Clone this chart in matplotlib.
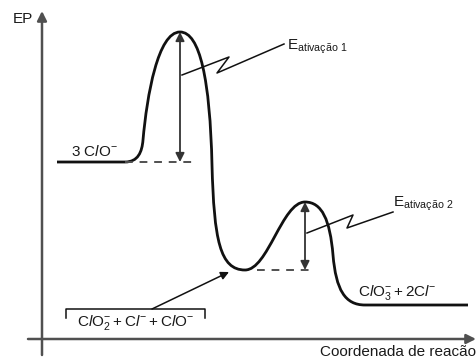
import matplotlib
matplotlib.use("Agg")
import matplotlib.pyplot as plt
from matplotlib.path import Path
from matplotlib.patches import PathPatch

plt.rcParams['font.family'] = ['Liberation Sans', 'DejaVu Sans']
plt.rcParams['mathtext.fontset'] = 'custom'
plt.rcParams['mathtext.rm'] = 'Liberation Sans'
plt.rcParams['mathtext.it'] = 'Liberation Sans:italic'
plt.rcParams['mathtext.bf'] = 'Liberation Sans:bold'

# energy levels (arbitrary units, x axis at 0)
states = ['3 ClO-', 'TS1', 'ClO2- + Cl- + ClO-', 'TS2', 'ClO3- + 2Cl-']
state_x = [57, 180, 245, 305, 468]
state_e = [177, 307, 69, 137, 34]

x0, x1, xi, x2, xp = state_x
er, e1, ei, e2, ep = state_e

axis_col = '#505050'

fig = plt.figure(figsize=(4.77, 3.59), dpi=100)
ax = fig.add_axes([0, 0, 1, 1])
ax.set_xlim(0, 477)
ax.set_ylim(-20, 339)
ax.axis('off')

# axes with arrow heads
ax.annotate('', xy=(42, 328), xytext=(42, -16),
            arrowprops=dict(arrowstyle='-|>', color=axis_col, lw=1.8,
                            mutation_scale=14, shrinkA=0, shrinkB=0))
ax.annotate('', xy=(476, 0), xytext=(28, 0),
            arrowprops=dict(arrowstyle='-|>', color=axis_col, lw=1.8,
                            mutation_scale=14, shrinkA=0, shrinkB=0))
ax.text(33, 320, 'EP', fontsize=11, ha='right', va='center', color='#1a1a1a')
ax.text(476, -13, 'Coordenada de reacão', fontsize=11, ha='right',
        va='center', color='#1a1a1a')

# reaction profile as bezier segments
verts = [
    (x0, er), (x1 - 55, er),
    (x1 - 42, er), (x1 - 38, er + 10), (x1 - 37, er + 22),
    (x1 - 33, er + 67), (x1 - 22, e1), (x1, e1),
    (x1 + 20, e1), (x1 + 30, e1 - 48), (x1 + 32, er - 3),
    (x1 + 34, ei + 30), (xi - 25, ei), (xi, ei),
    (xi + 23, ei), (x2 - 23, e2), (x2, e2),
    (x2 + 17, e2), (x2 + 25, e2 - 18), (x2 + 28, ei + 15),
    (x2 + 31, ep + 15), (x2 + 40, ep), (x2 + 60, ep),
    (xp, ep),
]
codes = ([Path.MOVETO, Path.LINETO] + [Path.CURVE4] * 21 + [Path.LINETO])
ax.add_patch(PathPatch(Path(verts, codes), fill=False, lw=2.0,
                       color='#111', capstyle='butt', joinstyle='round'))

# dashed reference levels
ax.plot([x1 - 55, x1 + 15], [er, er], ls=(0, (4, 3.5)), color=axis_col, lw=1.4)
ax.plot([xi + 12, x2 + 6], [ei, ei], ls=(0, (4, 3.5)), color=axis_col, lw=1.4)

# activation energy arrows
for xa, lo, hi in [(x1, er, e1), (x2, ei, e2)]:
    ax.annotate('', xy=(xa, hi), xytext=(xa, lo),
                arrowprops=dict(arrowstyle='<|-|>', color='#333', lw=1.3,
                                mutation_scale=13, shrinkA=0, shrinkB=0))

# zigzag leaders to the labels
ax.plot([x1 + 2, 229, 217, 284], [264, 282, 266, 295], color='#111', lw=1.1)
ax.plot([x2 + 2, 353, 347, 393], [106, 124, 111, 127], color='#111', lw=1.1)
ax.text(287, 292, r'$\mathrm{E}_{\mathrm{ativação\ 1}}$', fontsize=11,
        ha='left', va='center', color='#1a1a1a')
ax.text(393, 135, r'$\mathrm{E}_{\mathrm{ativação\ 2}}$', fontsize=11,
        ha='left', va='center', color='#1a1a1a')

# species labels
ax.text(94, 188, r'$3\ \mathrm{C}\mathit{l}\mathrm{O}^{-}$', fontsize=11,
        ha='center', va='center', color='#1a1a1a')
ax.text(358, 47, r'$\mathrm{C}\mathit{l}\mathrm{O}_{3}^{-}+2\mathrm{C}\mathit{l}^{-}$',
        fontsize=11, ha='left', va='center', color='#1a1a1a')
ax.text(136, 16, r'$\mathrm{C}\mathit{l}\mathrm{O}_{2}^{-}+\mathrm{C}\mathit{l}^{-}+\mathrm{C}\mathit{l}\mathrm{O}^{-}$',
        fontsize=11, ha='center', va='center', color='#1a1a1a')

# bracket around the intermediate and its pointer
ax.plot([66, 66, 205, 205], [21, 30, 30, 21], color='#111', lw=1.1)
ax.annotate('', xy=(229, ei - 2), xytext=(152, 30),
            arrowprops=dict(arrowstyle='-|>', color='#111', lw=1.1,
                            mutation_scale=12, shrinkA=0, shrinkB=0))

fig.savefig('out.png', dpi=100)
